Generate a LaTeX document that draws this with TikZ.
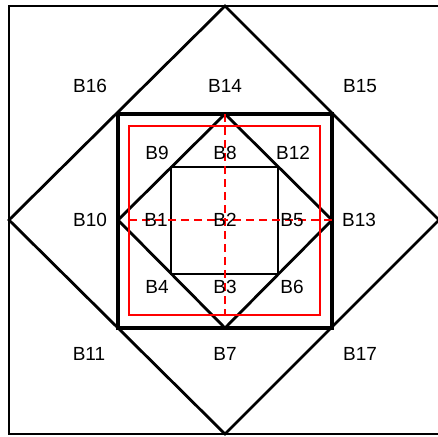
\documentclass[tikz,border=0pt]{standalone}
\usepackage{fontspec}
\setmainfont{Liberation Sans}
\begin{document}
\begin{tikzpicture}[x=1pt,y=-1pt,
    blkLabel/.style={font=\fontsize{19}{19}\selectfont,inner sep=0pt},
    blkEdge/.style={draw=black,line width=2.8pt,line join=miter},
    blkFrame/.style={draw=black,line width=3.4pt,line join=miter},
    blkRed/.style={draw=red,line width=1.4pt},
    blkAxis/.style={draw=red,line width=1.4pt,dash pattern=on 8pt off 5pt},
]
\useasboundingbox (0,0) rectangle (438,436);
% outer frame and big diamond
\draw[blkEdge,line width=2.2pt] (440,6) -- (9,6) -- (9,434) -- (440,434);
\draw[blkEdge] (225,6) -- (9,220) -- (225,434) -- (439,220) -- cycle;
% middle square and inner diamond
\draw[blkFrame] (118,114) rectangle (332,328);
\draw[blkEdge] (225,114) -- (118,220) -- (225,328) -- (332,220) -- cycle;
% inner square
\draw[blkEdge] (171,167) rectangle (278,274);
% red window and axes
\draw[blkRed] (129,126) rectangle (320,315);
\draw[blkAxis] (129,220) -- (332,220);
\draw[blkAxis] (225,114) -- (225,315);
% labels
\node[blkLabel] (b16) at (90,86) {B16};
\node[blkLabel] (b14) at (225,86) {B14};
\node[blkLabel] (b15) at (360,86) {B15};
\node[blkLabel] (b9) at (157,153) {B9};
\node[blkLabel] (b8) at (225,153) {B8};
\node[blkLabel] (b12) at (293,153) {B12};
\node[blkLabel] (b10) at (90,220) {B10};
\node[blkLabel] (b1) at (156,220) {B1};
\node[blkLabel] (b2) at (225,220) {B2};
\node[blkLabel] (b5) at (292,220) {B5};
\node[blkLabel] (b13) at (359,220) {B13};
\node[blkLabel] (b4) at (157,287) {B4};
\node[blkLabel] (b3) at (225,287) {B3};
\node[blkLabel] (b6) at (292,287) {B6};
\node[blkLabel] (b11) at (89,354) {B11};
\node[blkLabel] (b7) at (225,354) {B7};
\node[blkLabel] (b17) at (360,354) {B17};
\end{tikzpicture}
\end{document}
